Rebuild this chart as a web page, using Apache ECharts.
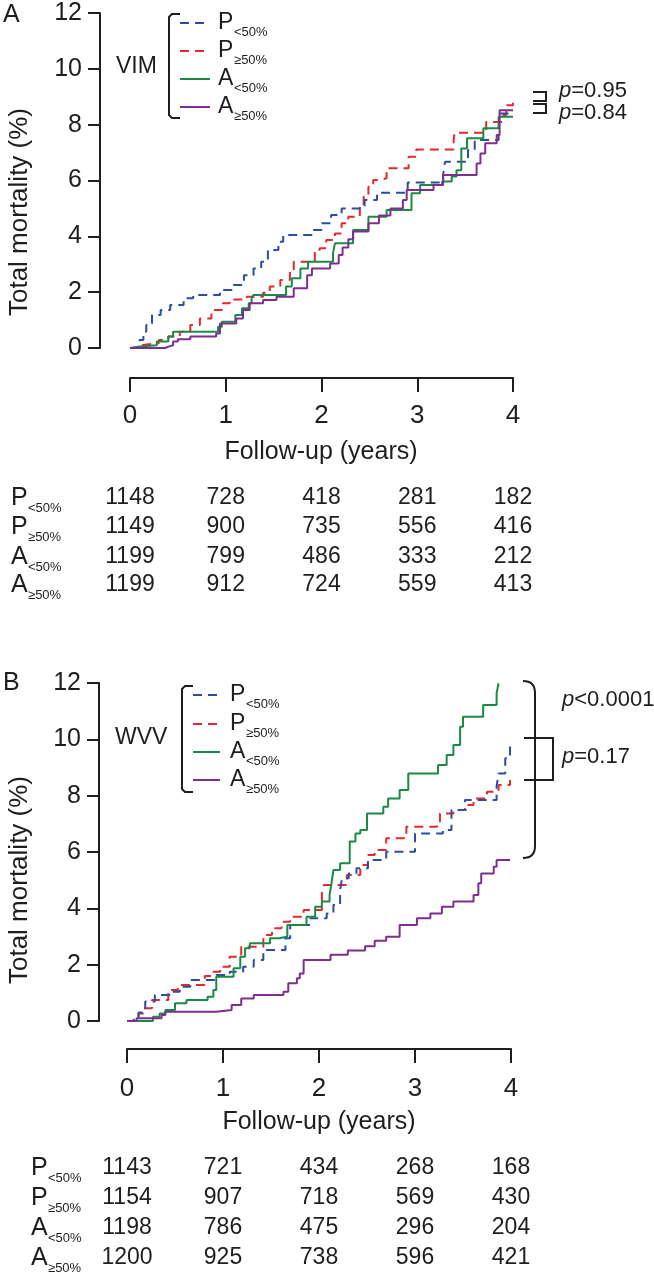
<!DOCTYPE html>
<html><head><meta charset="utf-8">
<script src="https://cdn.jsdelivr.net/npm/echarts@6/dist/echarts.min.js"></script>
<style>html,body{margin:0;padding:0;background:#fff}#c{width:654px;height:1280px}</style>
</head><body><div id="c"></div>
<script>
// ---------- data ----------
const seriesNames = ['P<50%', 'P≥50%', 'A<50%', 'A≥50%'];
const groupLetters = ['P', 'P', 'A', 'A'];
const groupSubs = ['<50%', '≥50%', '<50%', '≥50%'];
const xTicks = [0, 1, 2, 3, 4];

// Panel A (VIM) cumulative total mortality, % : [years, %]
const vimPlt50 = [[0,0],[0.02,0.05],[0.10,0.29],[0.14,0.58],[0.17,0.82],[0.23,1.18],[0.32,1.36],[0.42,1.54],[0.56,1.78],[0.66,1.90],[0.94,2.08],[1.08,2.26],[1.19,2.61],[1.29,2.85],[1.37,3.09],[1.44,3.51],[1.55,3.81],[1.60,4.05],[1.91,4.23],[2.00,4.47],[2.10,4.76],[2.21,5.00],[2.45,5.30],[2.58,5.56],[2.90,5.93],[3.27,6.20],[3.29,6.67],[3.53,7.09],[3.60,7.45],[3.85,7.81],[3.86,8.40],[4.00,8.40]];
const vimPge50 = [[0,0],[0.10,0.10],[0.12,0.17],[0.30,0.29],[0.40,0.41],[0.52,0.58],[0.63,0.82],[0.73,1.06],[0.85,1.36],[0.96,1.60],[1.04,1.74],[1.22,1.84],[1.39,1.98],[1.46,2.20],[1.57,2.44],[1.67,2.79],[1.71,3.09],[1.93,3.45],[1.98,3.57],[2.05,3.87],[2.14,4.10],[2.21,4.47],[2.28,4.70],[2.40,5.06],[2.44,5.42],[2.49,5.78],[2.54,6.02],[2.61,6.08],[2.68,6.44],[2.91,6.85],[2.99,7.11],[3.38,7.45],[3.39,7.71],[3.72,8.10],[3.90,8.35],[3.93,8.70],[4.00,8.94]];
const vimAlt50 = [[0,0],[0.07,0.05],[0.10,0.10],[0.28,0.23],[0.40,0.41],[0.45,0.58],[0.92,0.76],[0.96,0.94],[1.10,1.18],[1.17,1.42],[1.24,1.60],[1.27,1.78],[1.29,1.90],[1.63,2.20],[1.69,2.50],[1.78,2.85],[1.86,3.09],[2.12,3.39],[2.14,3.75],[2.33,4.23],[2.49,4.70],[2.68,4.94],[2.94,5.54],[3.03,5.84],[3.26,5.96],[3.36,6.14],[3.41,6.37],[3.46,7.15],[3.52,7.51],[3.69,7.87],[3.85,8.28],[4.00,8.28]];
const vimAge50 = [[0,0],[0.37,0.05],[0.40,0.10],[0.45,0.23],[0.50,0.31],[0.63,0.41],[0.90,0.52],[0.94,0.88],[1.11,1.06],[1.18,1.36],[1.25,1.60],[1.39,1.72],[1.53,1.84],[1.71,2.14],[1.85,2.61],[1.90,2.85],[2.09,3.03],[2.18,3.33],[2.22,3.60],[2.28,3.90],[2.33,4.17],[2.49,4.47],[2.60,4.75],[2.72,5.00],[2.85,5.30],[2.89,5.66],[3.17,5.84],[3.27,6.20],[3.62,6.61],[3.66,6.97],[3.71,7.33],[3.83,7.63],[3.86,8.52],[4.00,8.52]];

// Panel B (WVV)
const wvvPlt50 = [[0,0],[0.07,0.10],[0.12,0.30],[0.19,0.69],[0.29,0.92],[0.45,1.04],[0.55,1.22],[0.66,1.46],[0.93,1.63],[1.07,1.75],[1.21,1.93],[1.32,2.17],[1.42,2.52],[1.65,2.94],[1.70,3.41],[1.91,3.65],[2.08,3.82],[2.15,4.12],[2.22,4.65],[2.24,5.07],[2.31,5.24],[2.39,5.42],[2.51,5.72],[2.70,6.01],[3.00,6.66],[3.29,6.78],[3.38,7.49],[3.52,7.85],[3.85,8.32],[3.87,8.79],[3.94,9.33],[3.99,9.80]];
const wvvPge50 = [[0,0],[0.12,0.27],[0.17,0.45],[0.26,0.75],[0.43,1.10],[0.53,1.28],[0.81,1.60],[0.90,1.75],[0.97,1.93],[1.07,2.28],[1.19,2.64],[1.42,3.05],[1.51,3.29],[1.61,3.52],[1.70,3.70],[1.84,3.94],[2.03,4.59],[2.05,4.83],[2.29,5.18],[2.43,5.54],[2.51,5.89],[2.58,6.07],[2.70,6.49],[2.91,6.90],[3.23,7.07],[3.26,7.37],[3.40,7.49],[3.54,7.67],[3.61,7.90],[3.75,8.14],[3.87,8.38],[3.99,8.56]];
const wvvAlt50 = [[0,0],[0.27,0.15],[0.34,0.27],[0.40,0.39],[0.50,0.63],[0.62,0.75],[0.84,0.86],[0.90,1.10],[0.93,1.57],[1.11,1.87],[1.18,2.28],[1.23,2.58],[1.28,2.76],[1.49,2.94],[1.59,3.00],[1.67,3.41],[1.87,3.70],[1.96,4.06],[2.03,4.24],[2.11,4.47],[2.13,4.89],[2.15,5.36],[2.22,5.60],[2.32,6.37],[2.38,6.66],[2.43,6.78],[2.50,7.37],[2.67,7.61],[2.72,7.90],[2.84,8.20],[2.93,8.79],[3.24,9.09],[3.33,9.44],[3.40,9.80],[3.47,10.45],[3.50,10.80],[3.71,11.22],[3.85,11.63],[3.87,11.99]];
const wvvAge50 = [[0,0],[0.10,0.10],[0.36,0.21],[0.40,0.33],[0.93,0.39],[1.09,0.57],[1.19,0.80],[1.32,0.92],[1.63,1.04],[1.68,1.34],[1.77,1.52],[1.80,1.69],[1.84,2.17],[2.12,2.35],[2.30,2.50],[2.48,2.65],[2.58,2.85],[2.70,2.99],[2.84,3.41],[3.02,3.65],[3.16,3.82],[3.28,4.06],[3.40,4.24],[3.61,4.47],[3.66,4.89],[3.69,5.24],[3.82,5.48],[3.85,5.72],[3.99,5.72]];

// numbers at risk
const vimAtRisk = [[1148,728,418,281,182],[1149,900,735,556,416],[1199,799,486,333,212],[1199,912,724,559,413]];
const wvvAtRisk = [[1143,721,434,268,168],[1154,907,718,569,430],[1198,786,475,296,204],[1200,925,738,596,421]];

const panelLabels = ['A', 'B'];
const groupTitles = ['VIM', 'WVV'];
const pTextsA = ['p=0.95', 'p=0.84'];
const pTextsB = ['p<0.0001', 'p=0.17'];
const xTitle = 'Follow-up (years)';
const yTitle = 'Total mortality (%)';

// ---------- style ----------
const F = '"Liberation Sans", Arial, Helvetica, sans-serif';
const INK = '#1e1e1e';
const colors = ['#2d4d9f', '#e2292d', '#1b8a44', '#7d2e8e'];
const dashed = [true, true, false, false];

const chart = echarts.init(document.getElementById('c'), null, {renderer: 'canvas'});

function axisX(gi, offset, margin) {
  return {gridIndex: gi, type: 'value', min: 0, max: 4, interval: 1, position: 'bottom', offset: offset,
    axisLine: {show: true, onZero: false, lineStyle: {color: INK, width: 2}},
    axisTick: {show: true, inside: false, length: 14, lineStyle: {color: INK, width: 2}},
    axisLabel: {margin: margin, fontSize: 26, color: INK, fontFamily: F, formatter: v => String(v)},
    splitLine: {show: false}};
}
function axisY(gi, offset) {
  return {gridIndex: gi, type: 'value', min: 0, max: 12, interval: 2, position: 'left', offset: offset,
    axisLine: {show: true, onZero: false, lineStyle: {color: INK, width: 2}},
    axisTick: {show: true, inside: false, length: 12, lineStyle: {color: INK, width: 2}},
    axisLabel: {margin: 18, fontSize: 25, color: INK, fontFamily: F},
    splitLine: {show: false}};
}
function mk(data, idx, gi) {
  return {type: 'line', name: seriesNames[idx], xAxisIndex: gi, yAxisIndex: gi, data: data, step: 'end',
    symbol: 'none', silent: true, animation: false, clip: false,
    lineStyle: {color: colors[idx], width: 2, type: dashed[idx] ? [9, 6] : 'solid', cap: 'butt'},
    itemStyle: {color: colors[idx]}};
}

chart.setOption({
  backgroundColor: '#fff',
  animation: false,
  grid: [
    {left: 130, top: 13, width: 383, height: 335, outerBoundsMode: 'none', containLabel: false},
    {left: 127, top: 683, width: 384, height: 338, outerBoundsMode: 'none', containLabel: false}
  ],
  xAxis: [axisX(0, 30, 25), axisX(1, 28, 27)],
  yAxis: [axisY(0, 30), axisY(1, 28)],
  series: [
    mk(vimPge50, 1, 0), mk(vimPlt50, 0, 0), mk(vimAlt50, 2, 0), mk(vimAge50, 3, 0),
    mk(wvvPge50, 1, 1), mk(wvvPlt50, 0, 1), mk(wvvAlt50, 2, 1), mk(wvvAge50, 3, 1)
  ]
});

// ---------- annotations ----------
const g = [];
function txt(x, y, s, size, opt) {
  g.push(Object.assign({type: 'text', x: x, y: y, silent: true,
    style: {text: s, fontSize: size, fontFamily: F, fill: INK, textAlign: 'left', textVerticalAlign: 'middle'}}, opt || {}));
}
function ctxt(x, y, s, size, extra) {
  g.push(Object.assign({type: 'text', x: x, y: y, silent: true,
    style: {text: s, fontSize: size, fontFamily: F, fill: INK, textAlign: 'center', textVerticalAlign: 'middle'}}, extra || {}));
}
function line(x1, y1, x2, y2, color, w, dash) {
  g.push({type: 'line', silent: true, shape: {x1, y1, x2, y2},
    style: {stroke: color, lineWidth: w, lineDash: dash || null}});
}
function poly(points, w) {
  g.push({type: 'polyline', silent: true, shape: {points}, style: {stroke: INK, lineWidth: w, fill: null}});
}
function curve(x1, y1, cx, cy, x2, y2) {
  g.push({type: 'bezierCurve', silent: true, shape: {x1, y1, x2, y2, cpx1: cx, cpy1: cy},
    style: {stroke: INK, lineWidth: 2, fill: null}});
}

const panels = [
  {yTitleY: 212, letterY: 15, xTitleY: 452, xCenter: 321,
   legendRows: [23, 51, 79, 107], legX1: 180, legX2: 210, legTx: 218, subDx: 16,
   bracket: [[180,14],[172,14],[169,17],[169,115],[172,118],[180,118]],
   groupX: 116, groupY: 67, tableRows: [498, 527, 557, 585], tableLabelX: 11, risk: vimAtRisk},
  {yTitleY: 880, letterY: 683, xTitleY: 1122, xCenter: 319,
   legendRows: [695, 724, 752, 780], legX1: 193, legX2: 220, legTx: 230, subDx: 16,
   bracket: [[193,686],[185,686],[182,689],[182,789],[185,792],[193,792]],
   groupX: 115, groupY: 738, tableRows: [1168, 1198, 1228, 1258], tableLabelX: 31, risk: wvvAtRisk}
];

panels.forEach((p, pi) => {
  txt(3, p.letterY, panelLabels[pi], 25);
  ctxt(20, p.yTitleY, yTitle, 26, {rotation: Math.PI / 2});
  ctxt(p.xCenter, p.xTitleY, xTitle, 25);
  // legend
  txt(p.groupX, p.groupY, groupTitles[pi], 23);
  poly(p.bracket, 2);
  p.legendRows.forEach((y, k) => {
    line(p.legX1, y, p.legX2, y, colors[k], 2, dashed[k] ? [9, 6] : null);
    txt(p.legTx, y, groupLetters[k], 23);
    txt(p.legTx + p.subDx, y + 9, groupSubs[k], 13);
  });
  // at-risk table
  p.tableRows.forEach((y, r) => {
    txt(p.tableLabelX, y, groupLetters[r], 25);
    txt(p.tableLabelX + 17, y + 10, groupSubs[r], 13);
    xTicks.forEach((t, c) => {
      const px = chart.convertToPixel({xAxisIndex: pi}, t);
      ctxt(px, y, String(p.risk[r][c]), 23);
    });
  });
});

function ptxt(x, y, s) {
  const m = s.match(/^p(.*)$/);
  g.push({type: 'text', x: x, y: y, silent: true,
    style: {text: '{i|p}{n|' + m[1] + '}', textVerticalAlign: 'middle', textAlign: 'left', fill: INK,
      rich: {i: {fontStyle: 'italic', fontSize: 22, fontFamily: F, fill: INK}, n: {fontSize: 22, fontFamily: F, fill: INK}}}});
}
// Panel A p-values with small brackets
poly([[533, 92], [546, 92], [546, 101], [533, 101]], 2);
poly([[533, 104], [546, 104], [546, 113], [533, 113]], 2);
ptxt(559, 91, pTextsA[0]);
ptxt(559, 113, pTextsA[1]);
// Panel B p-values with brackets
curve(523, 681, 535, 681, 535, 693);
line(535, 693, 535, 846, INK, 2);
curve(535, 846, 535, 858, 523, 858);
poly([[524, 738], [553, 738], [553, 780], [524, 780]], 2);
ptxt(562, 700, pTextsB[0]);
ptxt(562, 757, pTextsB[1]);

chart.setOption({graphic: {elements: g}});
</script>
</body></html>
